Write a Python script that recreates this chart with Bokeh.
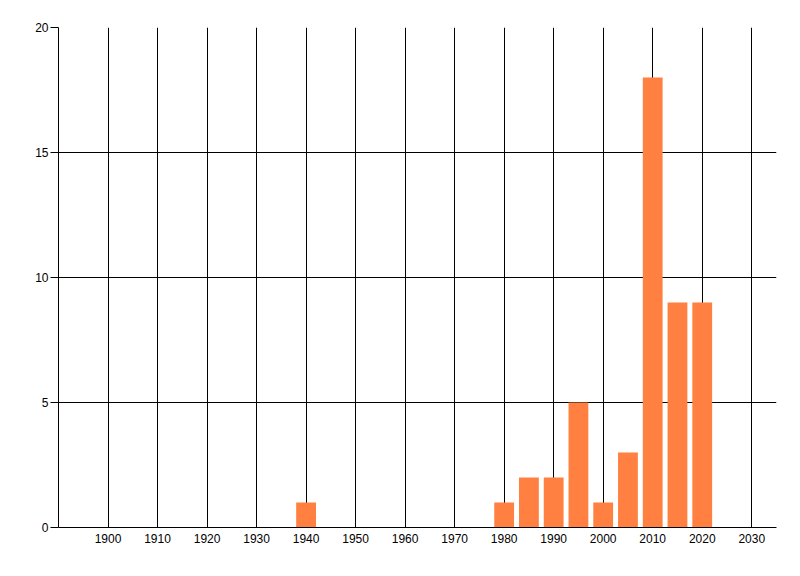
from bokeh.plotting import figure
from bokeh.models import FixedTicker, Range1d, ColumnDataSource
from bokeh.embed import file_html
from bokeh.resources import INLINE

# Data
years = [1940, 1980, 1985, 1990, 1995, 2000, 2005, 2010, 2015, 2020]
counts = [1, 1, 2, 2, 5, 1, 3, 18, 9, 9]
x_ticks = [1900, 1910, 1920, 1930, 1940, 1950, 1960, 1970, 1980, 1990, 2000, 2010, 2020, 2030]
y_ticks = [0, 5, 10, 15, 20]

src = ColumnDataSource(dict(x=years, top=counts))

p = figure(width=784, height=560, output_backend="svg", toolbar_location=None,
           x_range=Range1d(1890, 2035), y_range=Range1d(0, 20),
           min_border_left=58, min_border_right=8, min_border_top=27, min_border_bottom=33)
p.outline_line_color = None
p.background_fill_color = "white"
p.border_fill_color = "white"

p.vbar(x="x", top="top", bottom=0, width=4, source=src,
       fill_color="#FF8040", line_color=None)

font = "Liberation Sans"
for ax in (p.xaxis[0], p.yaxis[0]):
    ax.minor_tick_line_color = None
    ax.axis_line_color = "black"
    ax.major_label_text_font = font
    ax.major_label_text_font_size = "12px"
    ax.major_label_text_color = "black"
    ax.major_tick_line_color = "black"

p.xaxis[0].ticker = FixedTicker(ticks=x_ticks)
p.xaxis[0].major_tick_out = 0
p.xaxis[0].major_tick_in = 0
p.xaxis[0].major_label_standoff = 6

p.yaxis[0].ticker = FixedTicker(ticks=y_ticks)
p.yaxis[0].major_tick_out = 8
p.yaxis[0].major_tick_in = 0
p.yaxis[0].major_label_standoff = 2

p.xgrid[0].ticker = FixedTicker(ticks=x_ticks)
p.ygrid[0].ticker = FixedTicker(ticks=y_ticks)
for g in (p.xgrid[0], p.ygrid[0]):
    g.grid_line_color = "black"
    g.grid_line_alpha = 1.0
    g.grid_line_width = 1

open("out.html", "w").write(file_html(p, INLINE))
